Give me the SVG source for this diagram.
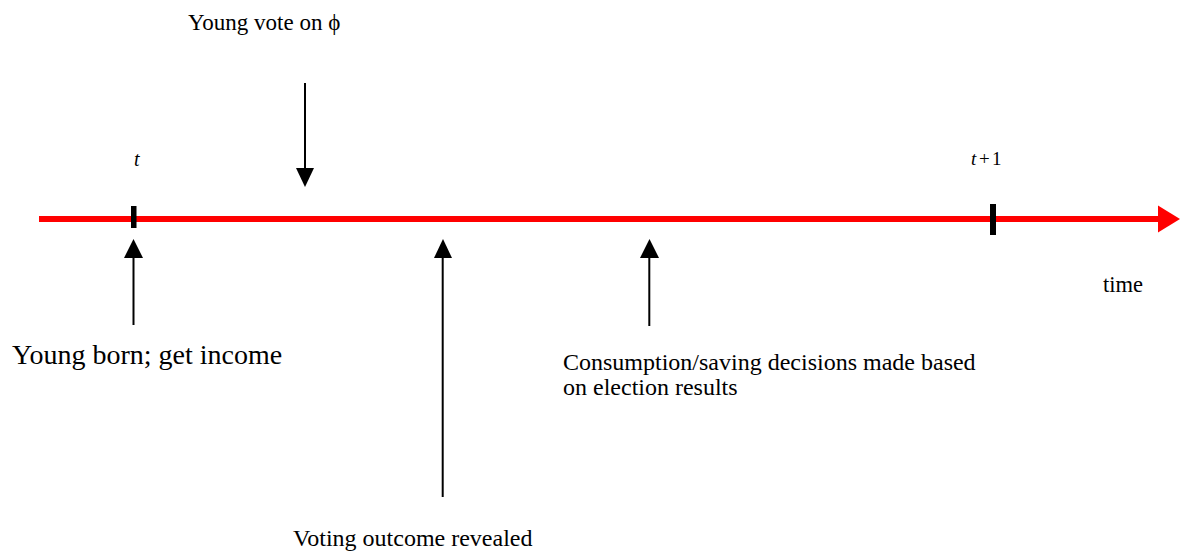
<svg xmlns="http://www.w3.org/2000/svg" width="1180" height="558" viewBox="0 0 1180 558">
<style>
text{font-family:"Liberation Serif","Times New Roman",serif;fill:#000}
.arr{stroke:#000;stroke-width:2;fill:none}
.head{fill:#000}
</style>
<rect width="1180" height="558" fill="#fff"/>
<g id="timeline">
<line x1="39" y1="219" x2="1160" y2="219" stroke="#ff0000" stroke-width="6"/>
<polygon points="1158,205.5 1180,219 1158,232.5" fill="#ff0000"/>
<rect x="131" y="206" width="5.5" height="22" fill="#000"/>
<rect x="990" y="204" width="6" height="31" fill="#000"/>
<text x="1103" y="292" font-size="22.5">time</text>
</g>
<g id="label-t"><text x="134" y="166" font-size="20" font-style="italic">t</text></g>
<g id="label-t1"><text y="165" font-size="19"><tspan x="971" font-style="italic">t</tspan><tspan x="979">+</tspan><tspan x="992">1</tspan></text></g>
<g id="connectors">
<line class="arr" x1="305" y1="83" x2="305" y2="170"/>
<polygon class="head" points="296,168 314,168 305,187"/>
<line class="arr" x1="133.5" y1="325" x2="133.5" y2="256"/>
<polygon class="head" points="124,258 143,258 133.5,239"/>
<line class="arr" x1="442.7" y1="497" x2="442.7" y2="256"/>
<polygon class="head" points="434,258 452,258 443,239"/>
<line class="arr" x1="649.3" y1="326" x2="649.3" y2="256"/>
<polygon class="head" points="640,258 659,258 649.5,239"/>
</g>
<g id="vote"><text x="188" y="30" font-size="23">Young vote on ϕ</text></g>
<g id="born"><text x="12" y="364" font-size="28">Young born; get income</text></g>
<g id="consumption"><text x="563" y="370" font-size="24">Consumption/saving decisions made based</text><text x="563" y="395" font-size="24">on election results</text></g>
<g id="outcome"><text x="293" y="546" font-size="24">Voting outcome revealed</text></g>
</svg>
